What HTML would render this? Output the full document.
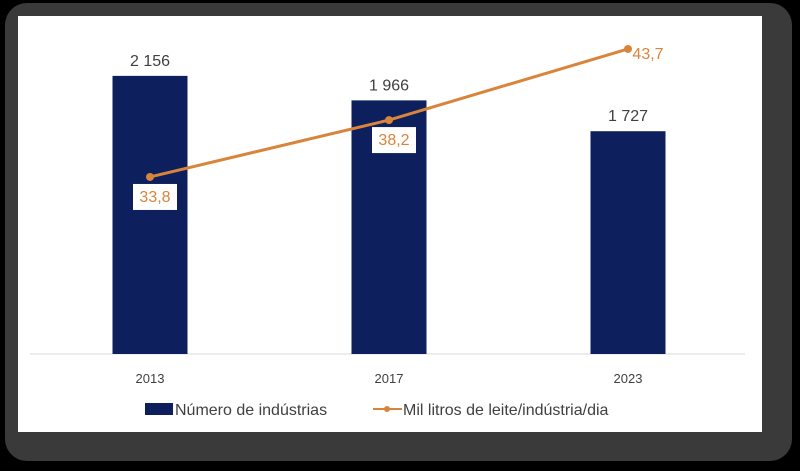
<!DOCTYPE html>
<html><head><meta charset="utf-8"><style>
html,body{margin:0;padding:0;background:#000;}
body{width:800px;height:471px;position:relative;overflow:hidden;font-family:"Liberation Sans",sans-serif;}
#frame{position:absolute;left:5px;top:3px;width:787px;height:458px;background:#3a3a3a;border-radius:22px;}
#panel{position:absolute;left:18px;top:16px;width:744px;height:416px;background:#fff;}
svg{position:absolute;left:0;top:0;}
</style></head><body>
<div id="frame"></div>
<div id="panel"></div>
<svg id="chart" width="800" height="471"></svg>
<script>
const categories=["2013","2017","2023"];
const industries=[2156,1966,1727];
const industryLabels=["2 156","1 966","1 727"];
const liters=[33.8,38.2,43.7];
const literLabels=["33,8","38,2","43,7"];
const NS="http://www.w3.org/2000/svg";
const svg=document.getElementById('chart');
function mk(t,a,p){const e=document.createElementNS(NS,t);for(const k in a)e.setAttribute(k,a[k]);(p||svg).appendChild(e);return e;}
const baseY=354;
const xC=i=>150+i*239;
const yBar=v=>baseY-v*0.129;
const yLine=v=>614-v*12.93;
const barW=75;
const axis=mk('line',{x1:30,y1:baseY,x2:745,y2:baseY,stroke:'#d9d9d9','stroke-width':1});


categories.forEach((c,i)=>{
  const b=mk('rect',{x:xC(i)-barW/2,y:yBar(industries[i]),width:barW,height:baseY-yBar(industries[i]),fill:'#0d1f5c'});
  
  
  const l=mk('text',{x:xC(i),y:yBar(industries[i])-10,'text-anchor':'middle','font-size':16,fill:'#404040'});
  l.textContent=industryLabels[i];
  
  
  const t=mk('text',{x:xC(i),y:383,'text-anchor':'middle','font-size':13,fill:'#404040'});
  t.textContent=c;
  
  
});
const pts=liters.map((v,i)=>xC(i)+','+yLine(v)).join(' ');
const pl=mk('polyline',{points:pts,fill:'none',stroke:'#d9843b','stroke-width':3});


liters.forEach((v,i)=>{
  const c=mk('circle',{cx:xC(i),cy:yLine(v),r:4,fill:'#d9843b'});
  
  
  let lx,ly;
  if(i<2){lx=xC(i)+5;ly=yLine(v)+21;
    const r=mk('rect',{x:lx-22,y:ly-14,width:44,height:26,fill:'#fff'});
    
    
  } else {lx=xC(i)+20;ly=yLine(v)+6;}
  const t=mk('text',{x:lx,y:ly+4,'text-anchor':'middle','font-size':16,fill:'#d9843b'});
  t.textContent=literLabels[i];
  
  
});
const g=mk('g',{});


const ls=mk('rect',{x:145,y:403,width:28,height:12,fill:'#0d1f5c'},g);


const lt=mk('text',{x:175,y:415,'font-size':16,fill:'#404040'},g);
lt.textContent='Número de indústrias';


const ll=mk('line',{x1:373,y1:409,x2:402,y2:409,stroke:'#d9843b','stroke-width':2},g);


mk('circle',{cx:387,cy:409,r:3,fill:'#d9843b'},g);
const lt2=mk('text',{x:403,y:415,'font-size':16,fill:'#404040'},g);
lt2.textContent='Mil litros de leite/indústria/dia';


</script>
</body></html>
